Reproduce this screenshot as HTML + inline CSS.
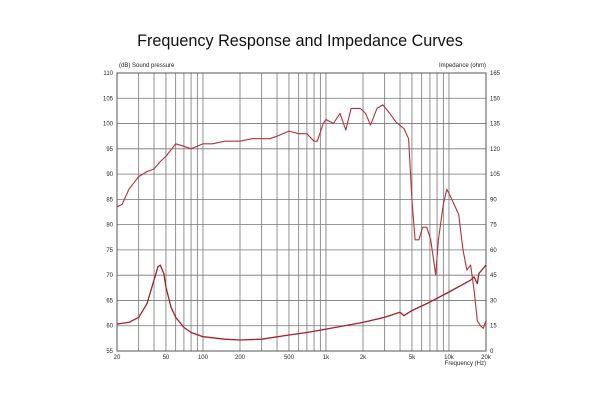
<!DOCTYPE html>
<html><head><meta charset="utf-8"><style>
body{margin:0;background:#fff;width:600px;height:400px;overflow:hidden}
svg text{font-family:"Liberation Sans",sans-serif;fill:#222}
</style></head><body>
<svg id="s" width="600" height="400" xmlns="http://www.w3.org/2000/svg">
<text x="300" y="46" text-anchor="middle" style="font-size:16.2px;fill:#111">Frequency Response and Impedance Curves</text>
<g id="g"></g>
<text x="119" y="67" style="font-size:6px">(dB)  Sound pressure</text>
<text x="486" y="67" text-anchor="end" style="font-size:6px">Impedance  (ohm)</text>
<text x="486" y="365" text-anchor="end" style="font-size:6px">Frequency  (Hz)</text>
</svg>
<script>
var L=117,R=486,T=73,B=351,D=(R-L)/3;
function X(f){return L+Math.log10(f/20)*D}
function Yd(d){return T+(110-d)*(B-T)/55}
function Yo(o){return B-o*(B-T)/165}
var h='';
for(var i=0;i<=11;i++){var y=T+i*(B-T)/11;h+='<line x1="'+L+'" x2="'+R+'" y1="'+y+'" y2="'+y+'" stroke="#777" stroke-width="0.8"/>';
h+='<text x="'+(L-4)+'" y="'+(y+2)+'" text-anchor="end" style="font-size:6px">'+(110-5*i)+'</text>';
h+='<text x="'+(R+4)+'" y="'+(y+2)+'" style="font-size:6px">'+(165-15*i)+'</text>';}
var fs=[];[10,100,1000,10000].forEach(function(m){for(var k=1;k<10;k++){var f=m*k;if(f>=20&&f<=20000)fs.push(f)}});
fs.push(20000);
fs.forEach(function(f){var x=X(f);h+='<line x1="'+x+'" x2="'+x+'" y1="'+T+'" y2="'+B+'" stroke="#777" stroke-width="0.8"/>';});
[[20,'20'],[50,'50'],[100,'100'],[200,'200'],[500,'500'],[1000,'1k'],[2000,'2k'],[5000,'5k'],[10000,'10k'],[20000,'20k']].forEach(function(a){h+='<text x="'+X(a[0])+'" y="359" text-anchor="middle" style="font-size:6px">'+a[1]+'</text>'});
h+='<rect x="'+L+'" y="'+T+'" width="'+(R-L)+'" height="'+(B-T)+'" fill="none" stroke="#555" stroke-width="1"/>';
var spl=[[20,83.5],[22,84],[25,87],[30,89.5],[35,90.5],[40,91],[45,92.5],[50,93.5],[60,96],[70,95.5],[80,95],[90,95.5],[100,96],[120,96],[150,96.5],[200,96.5],[250,97],[300,97],[350,97],[400,97.5],[500,98.5],[600,98],[700,98],[800,96.5],[850,96.5],[950,100],[1000,100.8],[1150,100],[1300,102],[1450,98.7],[1600,103],[1900,103],[2100,102],[2300,99.7],[2600,103],[2900,103.7],[3300,102],[3700,100.3],[4300,99],[4700,97],[5000,85],[5300,77],[5700,77],[6100,79.5],[6600,79.5],[7100,77],[7500,73],[7800,70],[8200,77],[9000,84],[9600,87],[10300,85.5],[11000,84],[12000,82],[13000,75],[14000,71],[15000,72],[16000,67],[17000,61],[18000,60],[19000,59.5],[20000,61]];
var imp=[[20,16],[25,17],[30,20],[35,28],[40,42],[43,50],[45,51],[48,46],[50,38],[55,26],[60,20],[70,14],[80,11],[100,8.5],[150,7],[200,6.5],[300,7],[500,9.5],[700,11],[1000,13],[2000,17],[3000,20],[4000,23],[4300,21],[5000,24],[7000,29],[10000,35],[15000,42],[16000,44],[17000,40],[17500,46],[20000,51]];
function p(a,fy){return a.map(function(q,i){return (i?'L':'M')+X(q[0]).toFixed(1)+' '+fy(q[1]).toFixed(1)}).join('')}
h+='<path d="'+p(spl,Yd)+'" fill="none" stroke="#b5303a" stroke-width="1.1" stroke-linejoin="round"/>';
h+='<path d="'+p(imp,Yo)+'" fill="none" stroke="#a3202a" stroke-width="1.3" stroke-linejoin="round"/>';
document.getElementById('g').innerHTML=h;
</script>
</body></html>
